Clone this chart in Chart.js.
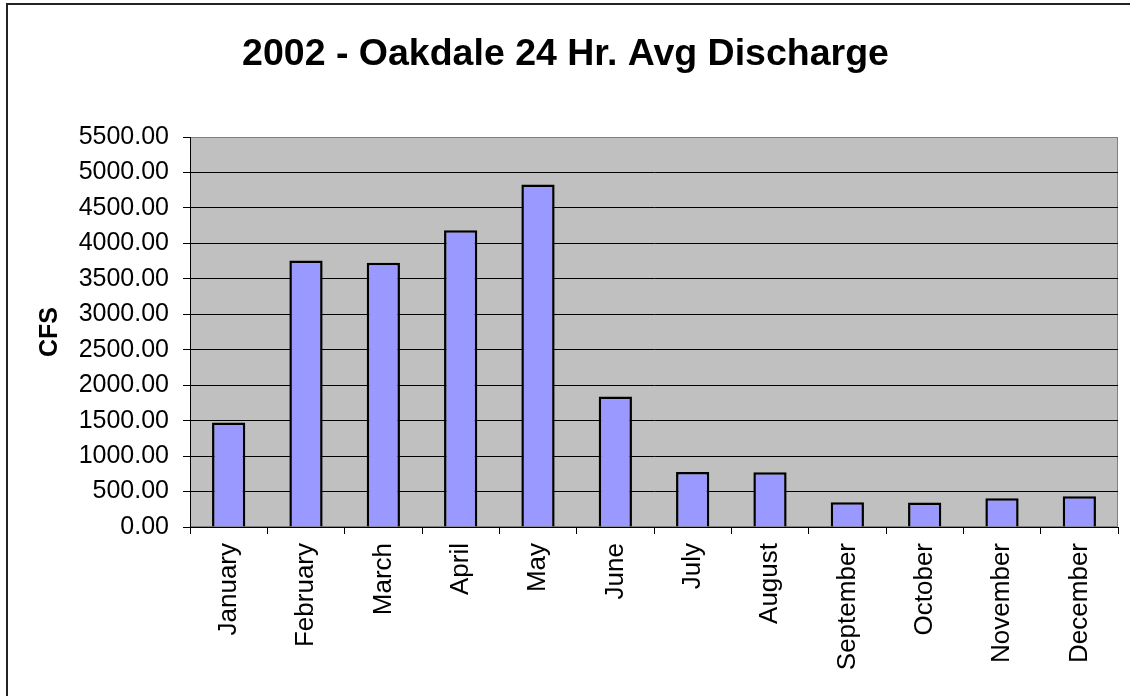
<!DOCTYPE html>
<html>
<head>
<meta charset="utf-8">
<script src="https://cdn.jsdelivr.net/npm/chart.js@4/dist/chart.umd.min.js"></script>
<style>
  html, body { margin: 0; padding: 0; background: #ffffff; }
  #wrap { position: relative; width: 1130px; height: 696px; }
  canvas { display: block; }
</style>
</head>
<body>
<div id="wrap"><canvas id="c" width="1130" height="696"></canvas></div>
<script>
const chartTitle = "2002 - Oakdale 24 Hr. Avg Discharge";
const yAxisTitle = "CFS";
const months = ["January", "February", "March", "April", "May", "June", "July", "August", "September", "October", "November", "December"];
const discharge = [1472, 3760, 3727, 4184, 4831, 1840, 774, 772, 349, 345, 406, 434];
const yMin = 0;
const yMax = 5500;
const yStep = 500;

const FONT = "'Liberation Sans', Arial, Helvetica, sans-serif";

const framePlugin = {
  id: 'frame',
  beforeDraw(chart) {
    const ctx = chart.ctx;
    const a = chart.chartArea;
    ctx.save();
    ctx.fillStyle = '#ffffff';
    ctx.fillRect(0, 0, chart.width, chart.height);
    ctx.strokeStyle = '#222222';
    ctx.lineWidth = 2;
    ctx.beginPath();
    ctx.moveTo(7, chart.height + 5);
    ctx.lineTo(7, 4);
    ctx.lineTo(chart.width + 5, 4);
    ctx.stroke();
    ctx.fillStyle = '#C0C0C0';
    ctx.fillRect(a.left, a.top, a.right - a.left, a.bottom - a.top);
    ctx.strokeStyle = '#808080';
    ctx.lineWidth = 1;
    ctx.strokeRect(a.left + 0.5, a.top + 0.5, a.right - a.left - 1, a.bottom - a.top - 1);
    ctx.restore();
  }
};

new Chart(document.getElementById('c'), {
  type: 'bar',
  data: {
    labels: months,
    datasets: [{
      data: discharge,
      backgroundColor: '#9999FF',
      borderColor: '#000000',
      borderWidth: 2.5,
      barPercentage: 0.43,
      categoryPercentage: 1.0
    }]
  },
  options: {
    responsive: false,
    animation: false,
    devicePixelRatio: 1,
    layout: { padding: { left: 13, right: 12, top: 0, bottom: 0 } },
    plugins: {
      legend: { display: false },
      tooltip: { enabled: false },
      title: {
        display: true,
        text: chartTitle,
        color: '#000000',
        font: { family: FONT, size: 37.5, weight: 'bold', lineHeight: 1.2 },
        padding: { top: 32, bottom: 60 }
      }
    },
    scales: {
      x: {
        offset: true,
        grid: {
          display: true,
          offset: true,
          drawOnChartArea: false,
          drawTicks: true,
          tickLength: 7,
          color: '#000000',
          tickColor: '#000000'
        },
        border: { display: true, color: '#000000', width: 1 },
        ticks: {
          color: '#000000',
          font: { family: FONT, size: 26 },
          minRotation: 90,
          maxRotation: 90,
          autoSkip: false,
          padding: 9
        },
        afterFit(scale) { scale.height = 169; }
      },
      y: {
        min: yMin,
        max: yMax,
        grid: {
          color: (ctx) => (ctx.tick && ctx.tick.value === yMax) ? 'rgba(0,0,0,0)' : '#000000',
          tickColor: '#000000',
          tickLength: 7,
          lineWidth: 1
        },
        border: { display: true, color: '#000000', width: 1 },
        ticks: {
          stepSize: yStep,
          color: '#000000',
          font: { family: FONT, size: 25 },
          padding: 14,
          callback: (v) => Number(v).toFixed(2)
        },
        title: {
          display: true,
          text: yAxisTitle,
          color: '#000000',
          font: { family: FONT, size: 25, weight: 'bold', lineHeight: 1.2 },
          padding: { top: 22, bottom: 0 }
        },
        afterFit(scale) { scale.width = 177; }
      }
    }
  },
  plugins: [framePlugin]
});
</script>
</body>
</html>
